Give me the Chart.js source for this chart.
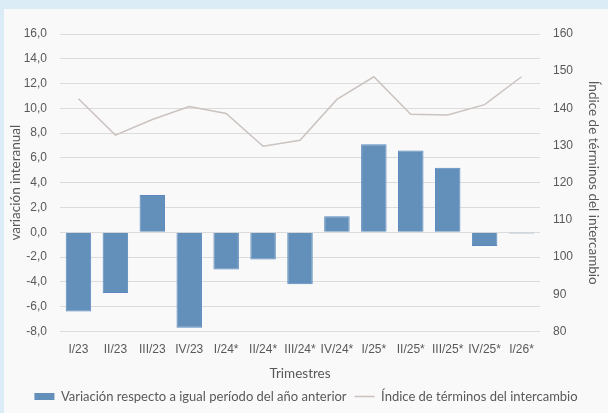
<!DOCTYPE html>
<html><head><meta charset="utf-8">
<script src="https://cdn.jsdelivr.net/npm/chart.js@4"></script>
<style>html,body{margin:0;padding:0;background:#dcecf7;}#wrap{width:608px;height:413px;position:relative;}</style>
</head><body><div id="wrap"><canvas id="c" width="608" height="413"></canvas></div>
<script>
const categories = ['I/23','II/23','III/23','IV/23','I/24*','II/24*','III/24*','IV/24*','I/25*','II/25*','III/25*','IV/25*','I/26*'];
const variacion = [-6.4,-4.9,3.0,-7.7,-3.0,-2.2,-4.2,1.3,7.1,6.6,5.2,-1.1,-0.1];
const indice = [142.6,132.8,137.0,140.5,138.6,129.8,131.4,142.4,148.5,138.4,138.2,141.0,148.5];
const seriesNames = ['Variación respecto a igual período del año anterior','Índice de términos del intercambio'];
const axisTitles = {x:'Trimestres', y:'variación interanual', y1:'Índice de términos del intercambio'};

const bgPlugin = {
  id:'bg',
  beforeDraw(chart){
    const ctx = chart.ctx;
    ctx.save();
    ctx.fillStyle = '#dcecf7';
    ctx.fillRect(0,0,chart.width,chart.height);
    ctx.fillStyle = '#f9f9f9';
    ctx.fillRect(4,9,chart.width-4,chart.height-9);
    ctx.restore();
  }
};
const tickFont = {family:'"Liberation Sans", Arial, sans-serif', size:12};
const titleFont = {family:'Lato, "Noto Sans", sans-serif', size:13.5};
new Chart(document.getElementById('c'), {
  type:'bar',
  data:{
    labels: categories,
    datasets:[
      {type:'bar', label:seriesNames[0], data:variacion, yAxisID:'y', backgroundColor:'#6290ba', borderColor:'#5a88bd', borderWidth:1, categoryPercentage:0.69, barPercentage:1.0, order:2},
      {type:'line', label:seriesNames[1], data:indice, yAxisID:'y1', borderColor:'#cbc3bf', backgroundColor:'#cbc3bf', borderWidth:1.5, pointRadius:0, tension:0, order:1}
    ]
  },
  options:{
    responsive:false, animation:false,
    layout:{padding:{left:4, right:0, top:34, bottom:0}},
    plugins:{
      legend:{position:'bottom', labels:{usePointStyle:true, pointStyleWidth:20, boxHeight:7, padding:8, color:'#595959', font:{family:'Lato, "Noto Sans", sans-serif', size:13},
        generateLabels(chart){
          return [
            {text:seriesNames[0], pointStyle:'rect', fillStyle:'#6290ba', strokeStyle:'#6290ba', lineWidth:0, datasetIndex:0, fontColor:'#595959'},
            {text:seriesNames[1], pointStyle:'line', fillStyle:'#cbc3bf', strokeStyle:'#cbc3bf', lineWidth:1.5, datasetIndex:1, fontColor:'#595959'}
          ];
        }}},
      tooltip:{enabled:false}
    },
    scales:{
      x:{grid:{display:false, drawTicks:false}, border:{display:false},
        ticks:{color:'#595959', font:tickFont, padding:11, maxRotation:0, autoSkip:false},
        title:{display:true, text:axisTitles.x, color:'#595959', font:titleFont, padding:{top:-2,bottom:0}}},
      y:{position:'left', min:-8, max:16, ticks:{stepSize:2, color:'#595959', font:tickFont, padding:13,
          callback:v=>v.toFixed(1).replace('.',',')},
        grid:{color:'#dcdcdc', drawTicks:false, lineWidth:1}, border:{display:false},
        title:{display:true, text:axisTitles.y, color:'#595959', font:titleFont, padding:{top:4,bottom:0}},
        afterFit(s){s.width=56;}},
      y1:{position:'right', min:80, max:160, ticks:{stepSize:10, color:'#595959', font:tickFont, padding:13},
        grid:{display:false, drawTicks:false}, border:{display:false},
        title:{display:true, text:axisTitles.y1, color:'#595959', font:titleFont, padding:{top:7,bottom:0}},
        afterFit(s){s.width=68;}}
    }
  },
  plugins:[bgPlugin]
});
</script></body></html>
